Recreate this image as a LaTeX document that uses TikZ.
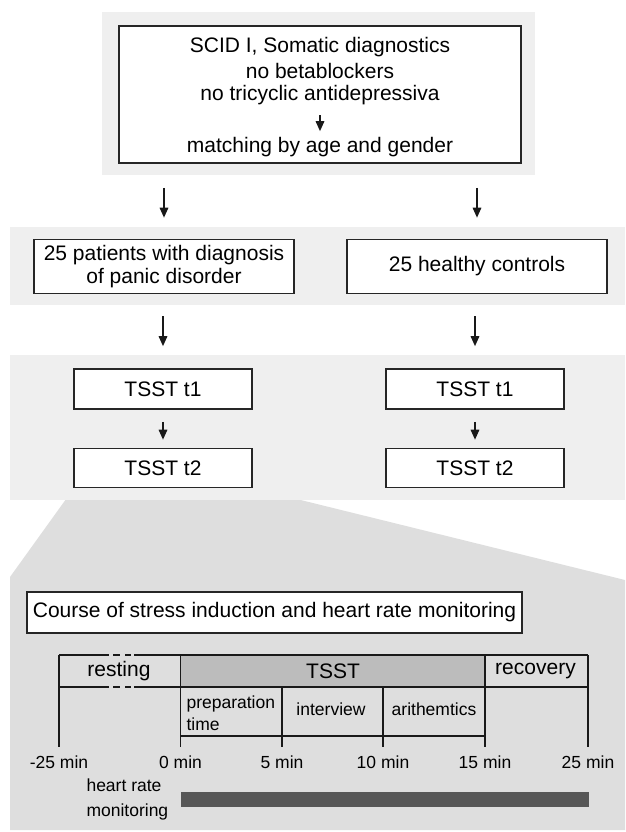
\documentclass[tikz,border=0pt]{standalone}
\usepackage{fontspec}
\setmainfont{Liberation Sans}
\usetikzlibrary{arrows.meta,positioning}

\definecolor{bandgray}{HTML}{EFEFEF}
\definecolor{zoomgray}{HTML}{DEDEDE}
\definecolor{tsstgray}{HTML}{BCBCBC}
\definecolor{bargray}{HTML}{575757}

\tikzset{
  box/.style={draw=black!85, line width=1.6pt, fill=white, inner sep=0pt, align=center, font=\fontsize{21}{23}\selectfont},
  txt/.style={font=\fontsize{21}{23}\selectfont},
  small/.style={font=\fontsize{17.5}{18}\selectfont},
  flow/.style={-{Triangle[length=10pt,width=8.5pt]}, line width=1.6pt, black!90},
  tline/.style={line width=1.8pt, black!90},
}

\begin{document}
\begin{tikzpicture}[x=1pt,y=-1pt]
\useasboundingbox (0,0) rectangle (625,832);

% Define dimensions of the time line
\def\tA{59}
\def\tB{180.5}
\def\tC{282}
\def\tD{383}
\def\tE{485}
\def\tF{588}
\def\rowtop{655}
\def\rowmid{687}
\def\rowsub{736}
\def\tickend{747}

% Draw grey bands and the zoom wedge
\fill[bandgray] (102,12.5) rectangle (535,175);
\fill[bandgray] (10,227) rectangle (625,305);
\fill[zoomgray] (74,488) -- (10,577) -- (10,830) -- (625,830) -- (625,580) -- (252,488) -- cycle;
\fill[bandgray] (10,355) rectangle (625,500);

% Screening box
\node[box, minimum width=402pt, minimum height=137pt] (screen) at (320,94.5) {};
\node[txt] (scid) at (320,47.5) {SCID I, Somatic diagnostics};
\node[txt] (nobeta) at (320,71) {no betablockers};
\node[txt] (notri) at (320,95) {no tricyclic antidepressiva};
\node[txt] (match) at (320,147.5) {matching by age and gender};
\draw[flow, shorten <=7pt, shorten >=3pt] (notri) -- (match);

% Groups
\node[box, minimum width=260pt, minimum height=54pt] (patients) at (164,266.5) {25 patients with diagnosis\\of panic disorder};
\node[box, minimum width=259.5pt, minimum height=54pt] (controls) at (477,266.5) {25 healthy controls};
\draw[flow, shorten <=24pt, shorten >=21pt] (screen.south -| patients) -- (patients.north);
\draw[flow, shorten <=24pt, shorten >=21pt] (screen.south -| controls) -- (controls.north);

% Two stress tests per group
\node[box, minimum width=178pt, minimum height=40pt] (pt1) at (163,389) {TSST t1};
\node[box, minimum width=178pt, minimum height=39pt] (pt2) at (163,468) {TSST t2};
\node[box, minimum width=178pt, minimum height=40pt] (ct1) at (475,389) {TSST t1};
\node[box, minimum width=178pt, minimum height=39pt] (ct2) at (475,468) {TSST t2};
\draw[flow, shorten <=22pt, shorten >=22pt] (patients.south -| pt1) -- (pt1.north);
\draw[flow, shorten <=22pt, shorten >=22pt] (controls.south -| ct1) -- (ct1.north);
\draw[flow, shorten <=12pt, shorten >=8pt] (pt1) -- (pt2);
\draw[flow, shorten <=12pt, shorten >=8pt] (ct1) -- (ct2);

% Course of one session
\node[box, minimum width=495pt, minimum height=41pt] (course) at (274.5,612.5) {Course of stress induction and heart rate monitoring};

\fill[tsstgray] (\tB,\rowtop) rectangle (\tE,\rowmid);
\foreach \y in {\rowtop,\rowmid} {
  \draw[tline] (\tA,\y) -- (109,\y);
  \draw[tline] (113,\y) -- (120,\y);
  \draw[tline] (125,\y) -- (131,\y);
  \draw[tline] (134,\y) -- (\tF,\y);
}
\draw[tline] (\tA,\rowtop) -- (\tA,\tickend);
\draw[tline] (\tB,\rowtop) -- (\tB,\tickend);
\draw[tline] (\tE,\rowtop) -- (\tE,\tickend);
\draw[tline] (\tF,\rowtop) -- (\tF,\tickend);
\draw[tline] (\tC,\rowmid) -- (\tC,\tickend);
\draw[tline] (\tD,\rowmid) -- (\tD,\tickend);
\draw[tline] (\tB,\rowsub) -- (\tE,\rowsub);

\node[txt] (resting) at (119,671) {resting};
\node[txt] (tsst) at (333,671) {TSST};
\node[txt] (recovery) at (535.5,671) {recovery};
\node[small, align=left, anchor=west, font=\fontsize{17.5}{22}\selectfont] (prep) at (183,713) {preparation\\time};
\node[small] (interview) at (331,709) {interview};
\node[small] (arith) at (434,709) {arithemtics};

\foreach \x/\l [count=\i] in {\tA/-25 min, \tB/0 min, \tC/5 min, \tD/10 min, \tE/15 min, \tF/25 min}
  \node[small] (min\i) at (\x,762) {\l};

% Heart rate monitoring
\node[small, align=left, anchor=west, font=\fontsize{17.5}{25}\selectfont] (hrlabel) at (83,799.5) {heart rate\\monitoring};
\fill[bargray] (\tB,792) rectangle (589,807);
\end{tikzpicture}
\end{document}
